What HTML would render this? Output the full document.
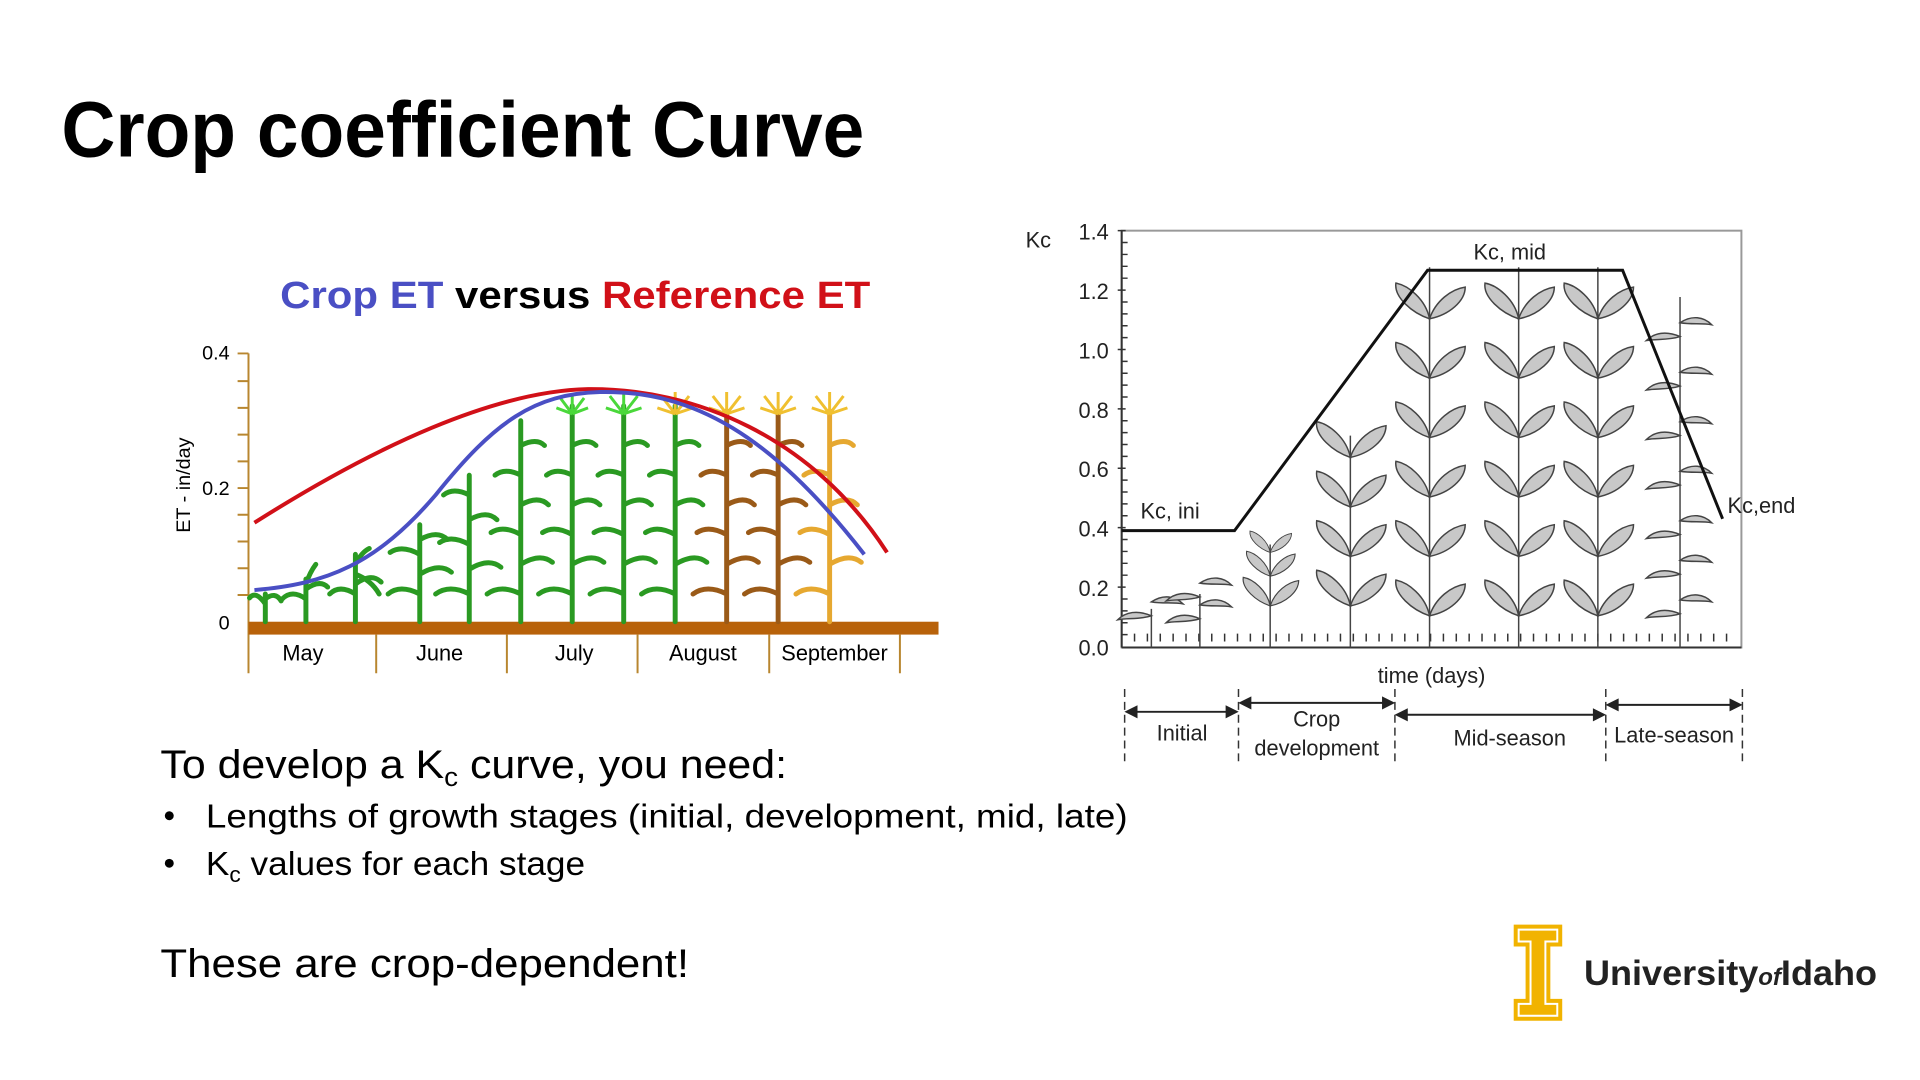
<!DOCTYPE html>
<html><head><meta charset="utf-8"><style>
html,body{margin:0;padding:0;background:#fff;}
svg{display:block;}
text{font-family:"Liberation Sans",sans-serif;}
</style></head><body>
<svg width="1920" height="1080" viewBox="0 0 1920 1080" xmlns="http://www.w3.org/2000/svg">
<defs>
<g id="cl"><path d="M0 0 C-14 -6 -26 -4 -34 4 C-24 2 -12 4 0 0Z"/><path d="M0 -14 C12 -22 24 -20 32 -12 C22 -14 12 -12 0 -14Z"/></g>
<g id="gl"><path d="M0 0 C-4 -20 -22 -34 -34 -36 C-36 -22 -18 -6 0 0Z"/><path d="M0 0 C6 -18 22 -30 36 -32 C36 -18 20 -4 0 0Z"/></g>
</defs>
<g transform="scale(0.99)">
<!-- Title -->
<text x="62" y="158" font-size="80" font-weight="bold" textLength="811" lengthAdjust="spacingAndGlyphs">Crop coefficient Curve</text>

<!-- Left chart -->
<text x="283" y="311" font-size="38" font-weight="bold" textLength="596" lengthAdjust="spacingAndGlyphs"><tspan fill="#4a4fc4">Crop ET</tspan> <tspan fill="#000">versus</tspan> <tspan fill="#d11018">Reference ET</tspan></text>
<g stroke="#b8862f" stroke-width="2" fill="none">
<line x1="251" y1="357" x2="251" y2="680"/>
<path d="M240 357H251M240 385H251M240 412H251M240 439H251M240 466H251M240 493H251M240 520H251M240 547H251M240 574H251M240 601H251"/>
<path d="M380 641V680M512 641V680M644 641V680M777 641V680M909 641V680"/>
</g>
<rect x="251" y="628" width="697" height="13" fill="#b8620a"/>
<g font-size="20" fill="#000">
<text x="232" y="363" text-anchor="end">0.4</text>
<text x="232" y="500" text-anchor="end">0.2</text>
<text x="232" y="636" text-anchor="end">0</text>
<text x="192" y="490" transform="rotate(-90 192 490)" text-anchor="middle" font-size="20">ET - in/day</text>
<text x="306" y="667" text-anchor="middle" font-size="22">May</text>
<text x="444" y="667" text-anchor="middle" font-size="22">June</text>
<text x="580" y="667" text-anchor="middle" font-size="22">July</text>
<text x="710" y="667" text-anchor="middle" font-size="22">August</text>
<text x="843" y="667" text-anchor="middle" font-size="22">September</text>
</g>
<!-- corn plants -->
<g stroke-width="5" fill="none" stroke-linecap="round">
<g stroke="#2a9a22">
<path d="M268 628V600M268 610 q-10 -14 -16 -6M268 605 q10 -8 16 2"/>
<path d="M309 628V585M309 605 q-14 -10 -24 0M309 595 q14 -10 22 -2M309 590 q4 -12 10 -20"/>
<path d="M359 628V560M359 600 q-16 -10 -26 0M359 590 q16 -12 26 -2M359 570 q6 -12 14 -16M359 580 q16 6 24 20"/>
<path d="M424 628V530M424 600 q-20 -10 -32 0M424 580 q20 -12 32 -2M424 560 q-18 -10 -30 -2M424 545 q18 -10 28 0"/>
<path d="M474 628V480M474 600 q-20 -10 -34 0M474 575 q20 -12 32 -2M474 550 q-18 -10 -30 -2M474 525 q18 -10 28 0M474 500 q-16 -8 -26 0"/>
<path d="M526 628V425M526 600 q-20 -10 -34 0M526 570 q20 -12 32 -2M526 540 q-18 -10 -30 -2M526 510 q18 -10 28 0M526 480 q-16 -8 -26 0M526 450 q16 -8 24 0"/>
<path d="M578 628V410M578 600 q-20 -10 -34 0M578 570 q20 -12 32 -2M578 540 q-18 -10 -30 -2M578 510 q18 -10 28 0M578 480 q-16 -8 -26 0M578 450 q16 -8 24 0"/>
<path d="M630 628V410M630 600 q-20 -10 -34 0M630 570 q20 -12 32 -2M630 540 q-18 -10 -30 -2M630 510 q18 -10 28 0M630 480 q-16 -8 -26 0M630 450 q16 -8 24 0"/>
<path d="M682 628V410M682 600 q-20 -10 -34 0M682 570 q20 -12 32 -2M682 540 q-18 -10 -30 -2M682 510 q18 -10 28 0M682 480 q-16 -8 -26 0M682 450 q16 -8 24 0"/>
</g>
<g stroke="#9a5a18">
<path d="M734 628V415M734 600 q-20 -10 -34 0M734 570 q20 -12 32 -2M734 540 q-18 -10 -30 -2M734 510 q18 -10 28 0M734 480 q-16 -8 -26 0M734 450 q16 -8 24 0"/>
<path d="M786 628V415M786 600 q-20 -10 -34 0M786 570 q20 -12 32 -2M786 540 q-18 -10 -30 -2M786 510 q18 -10 28 0M786 480 q-16 -8 -26 0M786 450 q16 -8 24 0"/>
</g>
<g stroke="#e6a830">
<path d="M838 628V415M838 600 q-20 -10 -34 0M838 570 q20 -12 32 -2M838 540 q-18 -10 -30 -2M838 510 q18 -10 28 0M838 480 q-16 -8 -26 0M838 450 q16 -8 24 0"/>
</g>
</g>
<g stroke-width="3" fill="none">
<path d="M578 418l-12 -16M578 418l12 -16M578 418V398M578 418l-16 -6M578 418l16 -6" stroke="#4ad83a"/>
<path d="M630 418l-14 -18M630 418l14 -18M630 418V396M630 418l-18 -6M630 418l18 -6" stroke="#4ad83a"/>
<path d="M682 418l-14 -18M682 418l14 -18M682 418V396M682 418l-18 -6M682 418l18 -6" stroke="#f0c030"/>
<path d="M734 418l-14 -18M734 418l14 -18M734 418V396M734 418l-18 -6M734 418l18 -6" stroke="#f0c030"/>
<path d="M786 418l-14 -18M786 418l14 -18M786 418V396M786 418l-18 -6M786 418l18 -6" stroke="#f0c030"/>
<path d="M838 418l-14 -18M838 418l14 -18M838 418V396M838 418l-18 -6M838 418l18 -6" stroke="#f0c030"/>
</g>
<path d="M257 528 C 380 450, 500 395, 594 393 C 700 392, 820 440, 896 558" stroke="#d11018" stroke-width="4" fill="none"/>
<path d="M257 596 C 330 590, 380 570, 440 500 C 500 425, 540 398, 606 396 C 700 394, 780 440, 873 560" stroke="#4a4fc4" stroke-width="4" fill="none"/>

<!-- Right chart -->
<rect x="1133" y="233" width="626" height="421" fill="none" stroke="#999" stroke-width="2"/>
<line x1="1133" y1="233" x2="1133" y2="654" stroke="#333" stroke-width="2"/>
<line x1="1133" y1="654" x2="1759" y2="654" stroke="#333" stroke-width="2"/>
<g stroke="#333" stroke-width="1.5">
<path d="M1133 245h6M1133 257h6M1133 269h6M1133 281h6M1133 305h6M1133 317h6M1133 329h6M1133 341h6M1133 365h6M1133 377h6M1133 389h6M1133 401h6M1133 425h6M1133 437h6M1133 449h6M1133 461h6M1133 485h6M1133 497h6M1133 509h6M1133 521h6M1133 545h6M1133 557h6M1133 569h6M1133 581h6M1133 605h6M1133 617h6M1133 629h6M1133 641h6"/>
<path d="M1129 233h8M1129 293h8M1129 353h8M1129 413h8M1129 473h8M1129 533h8M1129 593h8"/>
<path d="M1146 648v-8M1159 648v-8M1172 648v-8M1185 648v-8M1198 648v-8M1211 648v-8M1224 648v-8M1237 648v-8M1250 648v-8M1263 648v-8M1276 648v-8M1289 648v-8M1302 648v-8M1315 648v-8M1328 648v-8M1341 648v-8M1354 648v-8M1367 648v-8M1380 648v-8M1393 648v-8M1406 648v-8M1419 648v-8M1432 648v-8M1445 648v-8M1458 648v-8M1471 648v-8M1484 648v-8M1497 648v-8M1510 648v-8M1523 648v-8M1536 648v-8M1549 648v-8M1562 648v-8M1575 648v-8M1588 648v-8M1601 648v-8M1614 648v-8M1627 648v-8M1640 648v-8M1653 648v-8M1666 648v-8M1679 648v-8M1692 648v-8M1705 648v-8M1718 648v-8M1731 648v-8M1744 648v-8"/>
</g>
<!-- gray plants -->
<g fill="#c8c8c8" stroke="#444" stroke-width="1.5">
<path d="M1163 654V615M1212 654V600M1283 654V550M1364 654V440M1444 654V270M1534 654V270M1614 654V270M1697 654V300" fill="none"/>
<use href="#cl" x="1163" y="622"/>
<use href="#cl" x="1212" y="625"/><use href="#cl" x="1212" y="603"/>
<use href="#gl" x="1283" y="612" transform="translate(1283 612) scale(0.8) translate(-1283 -612)"/>
<use href="#gl" x="1283" y="582" transform="translate(1283 582) scale(0.7) translate(-1283 -582)"/>
<use href="#gl" x="1283" y="558" transform="translate(1283 558) scale(0.6) translate(-1283 -558)"/>
<use href="#gl" x="1364" y="612"/><use href="#gl" x="1364" y="562"/><use href="#gl" x="1364" y="512"/><use href="#gl" x="1364" y="462"/>
<use href="#gl" x="1444" y="622"/><use href="#gl" x="1444" y="562"/><use href="#gl" x="1444" y="502"/><use href="#gl" x="1444" y="442"/><use href="#gl" x="1444" y="382"/><use href="#gl" x="1444" y="322"/>
<use href="#gl" x="1534" y="622"/><use href="#gl" x="1534" y="562"/><use href="#gl" x="1534" y="502"/><use href="#gl" x="1534" y="442"/><use href="#gl" x="1534" y="382"/><use href="#gl" x="1534" y="322"/>
<use href="#gl" x="1614" y="622"/><use href="#gl" x="1614" y="562"/><use href="#gl" x="1614" y="502"/><use href="#gl" x="1614" y="442"/><use href="#gl" x="1614" y="382"/><use href="#gl" x="1614" y="322"/>
<use href="#cl" x="1697" y="620"/><use href="#cl" x="1697" y="580"/><use href="#cl" x="1697" y="540"/><use href="#cl" x="1697" y="490"/><use href="#cl" x="1697" y="440"/><use href="#cl" x="1697" y="390"/><use href="#cl" x="1697" y="340"/>
</g>
<polyline points="1133,536 1247,536 1442,273 1639,273 1740,524" fill="none" stroke="#111" stroke-width="3"/>
<g font-size="22" fill="#222">
<text x="1036" y="250">Kc</text>
<g text-anchor="end">
<text x="1120" y="242">1.4</text><text x="1120" y="302">1.2</text><text x="1120" y="362">1.0</text><text x="1120" y="422">0.8</text><text x="1120" y="482">0.6</text><text x="1120" y="542">0.4</text><text x="1120" y="602">0.2</text><text x="1120" y="662">0.0</text>
</g>
<text x="1525" y="262" text-anchor="middle">Kc, mid</text>
<text x="1152" y="524">Kc, ini</text>
<text x="1745" y="518">Kc,end</text>
<text x="1446" y="690" text-anchor="middle">time (days)</text>
<text x="1194" y="748" text-anchor="middle">Initial</text>
<text x="1330" y="734" text-anchor="middle">Crop</text>
<text x="1330" y="763" text-anchor="middle">development</text>
<text x="1525" y="753" text-anchor="middle">Mid-season</text>
<text x="1691" y="750" text-anchor="middle">Late-season</text>
</g>
<g stroke="#333" stroke-width="1.5" stroke-dasharray="8 5"><path d="M1136 696V773M1251 696V773M1409 696V773M1622 696V773M1760 696V773"/></g>
<g stroke="#222" stroke-width="2" fill="#222">
<line x1="1140" y1="719" x2="1247" y2="719"/><path d="M1138 719l10 -5v10zM1249 719l-10 -5v10z"/>
<line x1="1255" y1="710" x2="1405" y2="710"/><path d="M1253 710l10 -5v10zM1407 710l-10 -5v10z"/>
<line x1="1413" y1="722" x2="1618" y2="722"/><path d="M1411 722l10 -5v10zM1620 722l-10 -5v10z"/>
<line x1="1626" y1="712" x2="1756" y2="712"/><path d="M1624 712l10 -5v10zM1758 712l-10 -5v10z"/>
</g>

<!-- Body text -->
<text x="162" y="786" font-size="40" textLength="633" lengthAdjust="spacingAndGlyphs">To develop a K<tspan font-size="26" dy="8">c</tspan><tspan dy="-8"> curve, you need:</tspan></text>
<circle cx="171" cy="824" r="4.5" fill="#000"/>
<text x="208" y="836" font-size="34" textLength="931" lengthAdjust="spacingAndGlyphs">Lengths of growth stages (initial, development, mid, late)</text>
<circle cx="171" cy="872" r="4.5" fill="#000"/>
<text x="208" y="884" font-size="34" textLength="383" lengthAdjust="spacingAndGlyphs">K<tspan font-size="22" dy="7">c</tspan><tspan dy="-7"> values for each stage</tspan></text>
<text x="162" y="987" font-size="40" textLength="534" lengthAdjust="spacingAndGlyphs">These are crop-dependent!</text>

<!-- Logo -->
<path d="M1529 934H1578V956H1566V1009H1578V1031H1529V1009H1541V956H1529Z" fill="#f1b300"/>
<path d="M1534 939H1573V951H1561V1014H1573V1026H1534V1014H1546V951H1534Z" fill="none" stroke="#fff" stroke-width="2"/>
<text x="1600" y="995" font-size="36" font-weight="bold" fill="#222" textLength="296" lengthAdjust="spacingAndGlyphs">University<tspan font-style="italic" font-size="24">of</tspan>Idaho</text>
</g>
</svg>
</body></html>
